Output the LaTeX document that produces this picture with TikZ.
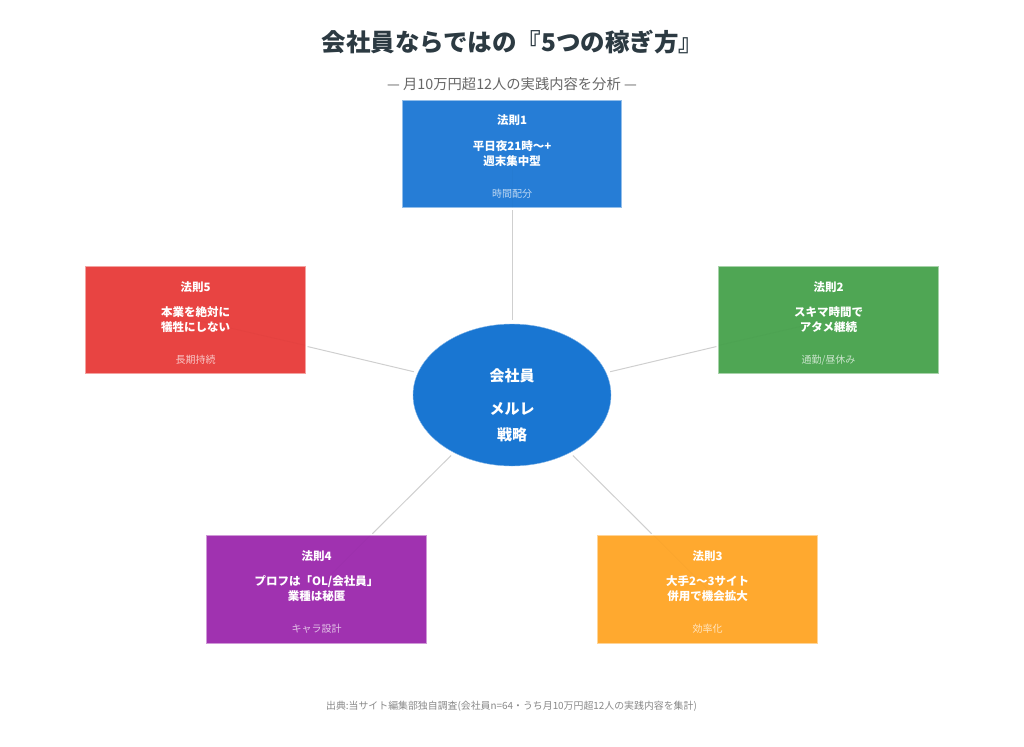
\documentclass[tikz,border=0pt]{standalone}
\usepackage{fontspec}
\usetikzlibrary{shapes.geometric}
\setmainfont{Noto Sans CJK JP}
\definecolor{inkdark}{HTML}{2C3A42}
\definecolor{inkgrey}{HTML}{666666}
\definecolor{inkfoot}{HTML}{888888}
\definecolor{linkgrey}{HTML}{CFCFCF}
\definecolor{hubblue}{HTML}{1976D2}
\definecolor{lawblue}{HTML}{267DD6}
\definecolor{lawgreen}{HTML}{4FA654}
\definecolor{laworange}{HTML}{FFA92F}
\definecolor{lawpurple}{HTML}{A032B0}
\definecolor{lawred}{HTML}{E84442}
\tikzset{
    lawbox/.style={rectangle, minimum width=219.5pt, minimum height=107.5pt, inner sep=0pt, line width=.8pt},
    lawhead/.style={anchor=base, inner sep=0pt, text=white, font=\fontsize{11.5pt}{11.5pt}\selectfont\bfseries},
    lawtag/.style={anchor=base, inner sep=0pt, text=white, text opacity=.7, font=\fontsize{10pt}{10pt}\selectfont},
    hubtext/.style={anchor=base, inner sep=0pt, text=white, font=\fontsize{15pt}{15pt}\selectfont\bfseries},
    link/.style={draw=linkgrey, line width=1pt, shorten >=2pt, shorten <=4pt},
    ghost/.style={draw=black, draw opacity=.015, line width=1pt}
}

\begin{document}
\begin{tikzpicture}[x=1pt,y=-1pt]
    \useasboundingbox (0,0) rectangle (1024,746);

    \node[anchor=base, inner sep=0pt, text=inkdark, font=\fontsize{24.5pt}{24.5pt}\selectfont\bfseries] (maintitle) at (512.5,52) {会社員ならではの『5つの稼ぎ方』};
    \node[anchor=base, inner sep=0pt, text=inkgrey, font=\fontsize{14.3pt}{14.3pt}\selectfont] (subtitle) at (512,90) {— 月10万円超12人の実践内容を分析 —};
    \node[anchor=base, inner sep=0pt, text=inkfoot, font=\fontsize{9.9pt}{9.9pt}\selectfont] (source) at (511.5,709.5) {出典:当サイト編集部独自調査(会社員n=64・うち月10万円超12人の実践内容を集計)};

    % centre
    \node[ellipse, minimum width=198pt, minimum height=142pt, inner sep=0pt, fill=hubblue, draw=hubblue!50!white, line width=.4pt] (hub) at (512,395) {};
    \node[hubtext] (hub1) at (512,381) {会社員};
    \node[hubtext] (hub2) at (512,414) {メルレ};
    \node[hubtext] (hub3) at (512,440) {戦略};

    % the five laws
    \foreach \id/\cx/\cy/\ang/\col/\lineA/\lineB/\tag in {
        1/512/154/270/lawblue/{平日夜21時〜+}/{週末集中型}/{時間配分},
        2/828.5/320/193/lawgreen/{スキマ時間で}/{アタメ継続}/{通勤/昼休み},
        3/707.5/589.25/135/laworange/{大手2〜3サイト}/{併用で機会拡大}/{効率化},
        4/316.5/589.25/45/lawpurple/{プロフは「OL/会社員」}/{業種は秘匿}/{キャラ設計},
        5/195.5/320/347/lawred/{本業を絶対に}/{犠牲にしない}/{長期持続}%
    }{
        \node[lawbox, fill=\col, draw=\col!50!white] (law\id) at (\cx,\cy) {};
        \draw[ghost] (law\id.center) -- (law\id.\ang);
        \node[lawhead] (law\id-head) at ([yshift=29pt]law\id.center) {法則\id};
        \node[lawhead] (law\id-a) at ([yshift=4pt]law\id.center) {\lineA};
        \node[lawhead] (law\id-b) at ([yshift=-11pt]law\id.center) {\lineB};
        \node[lawtag] (law\id-tag) at ([yshift=-43.5pt]law\id.center) {\tag};
        \draw[link] (hub) -- (law\id);
    }
\end{tikzpicture}
\end{document}
